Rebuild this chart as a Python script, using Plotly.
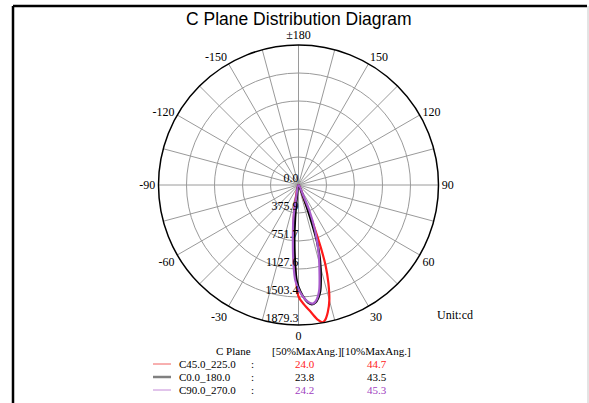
import plotly.graph_objects as go

W, H = 589, 403

# ---------------- data ----------------
radial_ticks = [0.0, 375.9, 751.7, 1127.6, 1503.4, 1879.3]
radial_labels = ["0.0", "375.9", "751.7", "1127.6", "1503.4", "1879.3"]
angle_ticks = list(range(0, 360, 15))
angle_labels = {0: "0", 30: "30", 60: "60", 90: "90", 120: "120", 150: "150",
                180: "\u00b1180", 210: "-150", 240: "-120", 270: "-90",
                300: "-60", 330: "-30"}

series_names = ["C45.0_225.0", "C0.0_180.0", "C90.0_270.0"]
half_max_ang = ["24.0", "23.8", "24.2"]
tenth_max_ang = ["44.7", "43.5", "45.3"]

c45_theta = [0, -11, -9, -5.3, -2.8, -1.2, 0, 2.8, 5.4, 8.2, 9.9, 11.2, 13.0,
             15.0, 17.0, 18.6, 19.6, 20.5, 20.8, 21.5, 0]
c45_r = [0, 205, 385, 741, 1051, 1319, 1497, 1611, 1707, 1829, 1870, 1845,
         1750, 1600, 1370, 1140, 900, 620, 420, 200, 0]

c0_theta = [0, -7.5, -5.8, -4.4, -2.4, -1.0, 0.9, 3.3, 4.8, 6.4, 8.1, 10.0,
            11.6, 13.1, 15.9, 18.1, 19.6, 21.5, 0]
c0_r = [0, 171, 441, 709, 1066, 1289, 1423, 1538, 1586, 1612, 1596, 1536,
        1453, 1323, 1061, 791, 466, 183, 0]

c90_theta = [0, -10.4, -8.7, -6.1, -3.6, -1.8, 0.5, 2.9, 5.3, 7.2, 9.1, 11.0,
             13.7, 16.8, 19.9, 23.0, 24.4, 0]
c90_r = [0, 173, 444, 711, 1067, 1290, 1423, 1523, 1587, 1602, 1555, 1450,
         1189, 926, 657, 379, 162, 0]

# ---------------- styles ----------------
curve_colors = ["#ff1a1a", "#000000", "#a95ccc"]
swatch_colors = ["#f06060", "#808080", "#c48ad8"]
swatch_widths = [1, 2.5, 1]
value_colors = ["#ff1a1a", "#000000", "#a040c0"]
SERIF = "Liberation Serif"
TF = 11

def px(x):
    return x / W

def py(y):
    return 1 - y / H

cx, cy, R = 298.5, 185.0, 140.0

fig = go.Figure()
for th, rr, col, nm in zip([c45_theta, c0_theta, c90_theta],
                           [c45_r, c0_r, c90_r], curve_colors, series_names):
    fig.add_trace(go.Scatterpolar(
        r=rr, theta=th, mode="lines", name=nm,
        line=dict(color=col, width=2.2, shape="spline", smoothing=1.0),
        hoverinfo="skip", showlegend=False))

# radial labels along the 0-degree spoke
fig.add_trace(go.Scatterpolar(
    r=radial_ticks, theta=[0] * len(radial_ticks), mode="text",
    text=radial_labels, textposition="top left",
    textfont=dict(family=SERIF, size=12, color="#000000"),
    hoverinfo="skip", showlegend=False, cliponaxis=False))

fig.update_layout(
    width=W, height=H,
    margin=dict(l=0, r=0, t=0, b=0),
    paper_bgcolor="white",
    showlegend=False,
    polar=dict(
        domain=dict(x=[px(cx - R), px(cx + R)], y=[py(cy + R), py(cy - R)]),
        bgcolor="white",
        radialaxis=dict(range=[0, radial_ticks[-1]], tickvals=radial_ticks[1:],
                        showticklabels=False, ticks="", showline=False,
                        gridcolor="#9a9a9a", gridwidth=1, angle=-90),
        angularaxis=dict(rotation=-90, direction="counterclockwise",
                         tickvals=angle_ticks,
                         ticktext=[angle_labels.get(a, "") for a in angle_ticks],
                         ticks="", showline=True, linecolor="#000000",
                         linewidth=1.5, gridcolor="#9a9a9a", gridwidth=1,
                         tickfont=dict(family=SERIF, size=12, color="#000000")),
    ),
)

# title
fig.add_annotation(text="C Plane Distribution Diagram", x=px(cx), y=py(19),
                   xref="paper", yref="paper", showarrow=False,
                   xanchor="center", yanchor="middle",
                   font=dict(family="Liberation Sans", size=17.5, color="#000000"))

# unit
fig.add_annotation(text="Unit:cd", x=px(435), y=py(315), xref="paper",
                   yref="paper", showarrow=False, xanchor="left",
                   yanchor="middle",
                   font=dict(family=SERIF, size=12, color="#000000"))

# table header
fig.add_annotation(text="C Plane", x=px(253), y=py(351), xref="paper",
                   yref="paper", showarrow=False, xanchor="right",
                   yanchor="middle", font=dict(family=SERIF, size=TF, color="#000"))
fig.add_annotation(text="[50%MaxAng.][10%MaxAng.]", x=px(341), y=py(351),
                   xref="paper", yref="paper", showarrow=False,
                   xanchor="center", yanchor="middle",
                   font=dict(family=SERIF, size=TF, color="#000"))

row_y = [364, 377, 390]
for i, nm in enumerate(series_names):
    y = row_y[i]
    fig.add_shape(type="line", xref="paper", yref="paper",
                  x0=px(153), x1=px(171), y0=py(y), y1=py(y),
                  line=dict(color=swatch_colors[i], width=swatch_widths[i]))
    fig.add_annotation(text=nm, x=px(177), y=py(y), xref="paper", yref="paper",
                       showarrow=False, xanchor="left", yanchor="middle",
                       font=dict(family=SERIF, size=TF, color="#000"))
    fig.add_annotation(text=":", x=px(252), y=py(y), xref="paper", yref="paper",
                       showarrow=False, xanchor="center", yanchor="middle",
                       font=dict(family=SERIF, size=TF, color="#000"))
    fig.add_annotation(text=half_max_ang[i], x=px(304.5), y=py(y), xref="paper",
                       yref="paper", showarrow=False, xanchor="center",
                       yanchor="middle",
                       font=dict(family=SERIF, size=TF, color=value_colors[i]))
    fig.add_annotation(text=tenth_max_ang[i], x=px(376.5), y=py(y), xref="paper",
                       yref="paper", showarrow=False, xanchor="center",
                       yanchor="middle",
                       font=dict(family=SERIF, size=TF, color=value_colors[i]))

# frame
fig.add_shape(type="line", xref="paper", yref="paper", x0=px(13), x1=px(587),
              y0=py(6), y1=py(6), line=dict(color="#000", width=2.5))
fig.add_shape(type="line", xref="paper", yref="paper", x0=px(13), x1=px(13),
              y0=py(6), y1=0, line=dict(color="#000", width=2.5))
fig.add_shape(type="line", xref="paper", yref="paper", x0=px(588), x1=px(588),
              y0=py(6), y1=0, line=dict(color="#c8c8c8", width=1))

fig.write_html("out.html",
               config={"displayModeBar": False},
               post_script="document.body.style.margin='0px';"
                           "document.body.style.overflow='hidden';")
